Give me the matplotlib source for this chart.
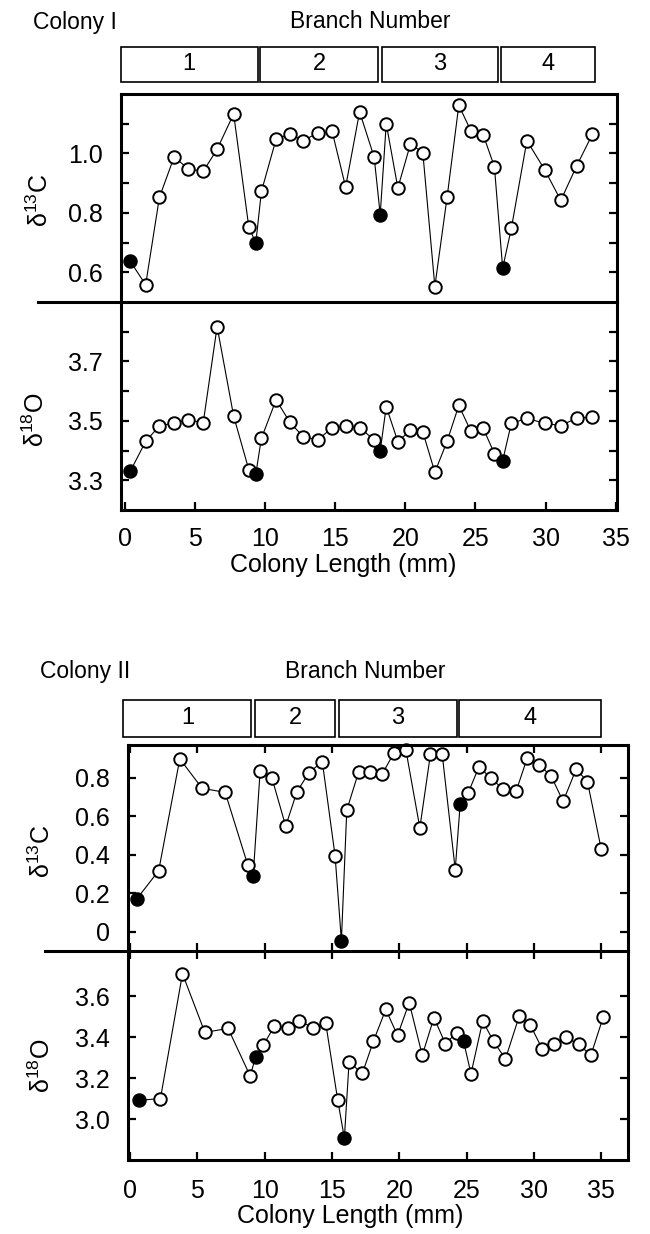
import matplotlib.pyplot as plt
from matplotlib.lines import Line2D
from matplotlib.patches import Rectangle
from matplotlib.ticker import FixedLocator

plt.rcParams['font.family'] = ['Liberation Sans', 'DejaVu Sans']
plt.rcParams['mathtext.fontset'] = 'custom'
plt.rcParams['mathtext.rm'] = 'Liberation Sans'

# ---- Colony I ----
c1_x = [0.36, 1.46, 2.44, 3.49, 4.51, 5.57, 6.56, 7.74, 8.82, 9.32, 9.72, 10.77,
        11.75, 12.70, 13.75, 14.77, 15.73, 16.73, 17.77, 18.20, 18.63, 19.46,
        20.36, 21.24, 22.10, 22.98, 23.81, 24.66, 25.55, 26.35, 26.94, 27.56,
        28.67, 29.94, 31.09, 32.21, 33.35]
c1_d13c = [0.637, 0.558, 0.852, 0.988, 0.948, 0.940, 1.014, 1.133, 0.753, 0.698,
           0.872, 1.048, 1.065, 1.043, 1.069, 1.074, 0.887, 1.140, 0.987, 0.794,
           1.100, 0.884, 1.032, 1.003, 0.552, 0.855, 1.162, 1.077, 1.063, 0.955,
           0.614, 0.748, 1.043, 0.945, 0.842, 0.957, 1.065]
c1_d18o = [3.330, 3.431, 3.483, 3.493, 3.503, 3.494, 3.817, 3.516, 3.336, 3.321,
           3.441, 3.571, 3.495, 3.447, 3.436, 3.477, 3.482, 3.477, 3.436, 3.399,
           3.548, 3.430, 3.469, 3.463, 3.327, 3.432, 3.552, 3.466, 3.475, 3.390,
           3.366, 3.492, 3.508, 3.492, 3.484, 3.509, 3.513]
c1_filled = [0, 9, 19, 30]
c1_branches = [(-0.3, 9.45), (9.65, 18.05), (18.3, 26.6), (26.85, 33.55)]

# ---- Colony II ----
c2_x_c = [0.51, 2.12, 3.69, 5.35, 7.06, 8.75, 9.14, 9.66, 10.54, 11.56, 12.40,
          13.29, 14.28, 15.23, 15.70, 16.10, 16.99, 17.83, 18.75, 19.60, 20.49,
          21.53, 22.32, 23.19, 24.16, 24.53, 25.11, 25.93, 26.79, 27.68, 28.68,
          29.50, 30.39, 31.29, 32.18, 33.15, 33.99, 35.01]
c2_d13c = [0.172, 0.317, 0.898, 0.745, 0.724, 0.345, 0.289, 0.835, 0.798, 0.549,
           0.728, 0.826, 0.884, 0.395, -0.046, 0.632, 0.832, 0.832, 0.821, 0.929,
           0.945, 0.540, 0.923, 0.923, 0.323, 0.666, 0.719, 0.858, 0.798, 0.744,
           0.729, 0.900, 0.868, 0.808, 0.677, 0.845, 0.779, 0.429]
c2_x_o = [0.63, 2.25, 3.89, 5.55, 7.28, 8.92, 9.32, 9.89, 10.71, 11.71, 12.57,
          13.57, 14.53, 15.43, 15.92, 16.27, 17.26, 18.08, 19.00, 19.87, 20.74,
          21.71, 22.58, 23.42, 24.29, 24.78, 25.33, 26.20, 27.01, 27.89, 28.91,
          29.75, 30.62, 31.49, 32.38, 33.34, 34.24, 35.16]
c2_d18o = [3.091, 3.100, 3.709, 3.423, 3.442, 3.210, 3.302, 3.360, 3.452, 3.446,
           3.480, 3.446, 3.470, 3.091, 2.907, 3.277, 3.223, 3.380, 3.535, 3.408,
           3.568, 3.311, 3.495, 3.368, 3.421, 3.379, 3.221, 3.478, 3.379, 3.293,
           3.501, 3.457, 3.343, 3.364, 3.400, 3.364, 3.311, 3.498]
c2_filled = [0, 6, 14, 25]
c2_branches = [(-0.5, 9.0), (9.25, 15.25), (15.5, 24.3), (24.45, 35.0)]

branch_labels = ['1', '2', '3', '4']
x_ticks = [0, 5, 10, 15, 20, 25, 30, 35]

W, H = 650, 1234
fig = plt.figure(figsize=(W / 100, H / 100), dpi=100)
FS_TICK = 18
FS_TITLE = 16.5
FS_LABEL = 18


def px_axes(left, top, right, bottom):
    return fig.add_axes([left / W, 1 - bottom / H, (right - left) / W, (bottom - top) / H])


def style(ax, xlim, ylim):
    ax.set_xlim(*xlim)
    ax.set_ylim(*ylim)
    for s in ax.spines.values():
        s.set_linewidth(2.2)
    ax.tick_params(which='both', direction='in', length=6, width=1.6,
                   labelsize=FS_TICK, pad=13, right=True)


def draw(ax, x, y, filled):
    ax.plot(x, y, color='black', lw=0.8, marker='o', ms=9,
            mfc='white', mec='black', mew=1.4, zorder=2, clip_on=False)
    ax.plot([x[i] for i in filled], [y[i] for i in filled], ls='none',
            marker='o', ms=8.5, mfc='black', mec='black', zorder=3, clip_on=False)


def branches(left, right, top, bottom, xlim, spans):
    bx = px_axes(left, top, right, bottom)
    bx.set_xlim(*xlim)
    bx.set_ylim(0, 1)
    bx.axis('off')
    for (a, b), lab in zip(spans, branch_labels):
        bx.add_patch(Rectangle((a, 0), b - a, 1, fill=False, lw=1.2,
                               ec='black', clip_on=False))
        bx.text((a + b) / 2, 0.5, lab, ha='center', va='center', fontsize=17)


def divider(x0, x1, y):
    fig.add_artist(Line2D([x0 / W, x1 / W], [1 - y / H, 1 - y / H],
                          color='black', lw=2.2))


# ================= Colony I =================
L1, R1 = 121, 617
xl1 = (-0.3, 35.1)
a1 = px_axes(L1, 94, R1, 302)
b1 = px_axes(L1, 302, R1, 510)
style(a1, xl1, (0.5, 1.2))
style(b1, xl1, (3.2, 3.9))
a1.spines['bottom'].set_visible(False)
b1.spines['top'].set_visible(False)
a1.tick_params(axis='x', bottom=False, labelbottom=False)
b1.tick_params(axis='x', top=False)
a1.yaxis.set_major_locator(FixedLocator([0.6, 0.8, 1.0]))
a1.yaxis.set_minor_locator(FixedLocator([0.7, 0.9, 1.1]))
a1.set_yticklabels(['0.6', '0.8', '1.0'])
b1.yaxis.set_major_locator(FixedLocator([3.3, 3.5, 3.7]))
b1.yaxis.set_minor_locator(FixedLocator([3.4, 3.6, 3.8]))
b1.set_yticklabels(['3.3', '3.5', '3.7'])
b1.set_xticks(x_ticks)
b1.tick_params(axis='x', pad=12)
draw(a1, c1_x, c1_d13c, c1_filled)
draw(b1, c1_x, c1_d18o, c1_filled)
divider(38, R1, 302)
branches(L1, R1, 47, 82, xl1, c1_branches)

fig.text(33 / W, 1 - 22 / H, 'Colony I', ha='left', va='center', fontsize=FS_TITLE)
fig.text(370 / W, 1 - 22 / H, 'Branch Number', ha='center', va='center', fontsize=FS_TITLE)
fig.text(40 / W, 1 - 200 / H, 'δ$^{13}$C', rotation=90, ha='center', va='center', fontsize=FS_LABEL)
fig.text(36 / W, 1 - 420 / H, 'δ$^{18}$O', rotation=90, ha='center', va='center', fontsize=FS_LABEL)
fig.text(343 / W, 1 - 565 / H, 'Colony Length (mm)', ha='center', va='center', fontsize=FS_LABEL)

# ================= Colony II =================
L2, R2 = 128, 628
xl2 = (-0.16, 37.0)
a2 = px_axes(L2, 745, R2, 951)
b2 = px_axes(L2, 951, R2, 1160)
style(a2, xl2, (-0.1, 0.97))
style(b2, xl2, (2.8, 3.82))
a2.spines['bottom'].set_visible(False)
b2.spines['top'].set_visible(False)
for ax in (a2, b2):
    ax.set_xticks(x_ticks)
    ax.tick_params(axis='x', top=True)
a2.tick_params(axis='x', labelbottom=False)
b2.tick_params(axis='x', pad=14)
a2.set_yticks([0, 0.2, 0.4, 0.6, 0.8])
a2.set_yticklabels(['0', '0.2', '0.4', '0.6', '0.8'])
b2.set_yticks([3.0, 3.2, 3.4, 3.6])
b2.set_yticklabels(['3.0', '3.2', '3.4', '3.6'])
draw(a2, c2_x_c, c2_d13c, c2_filled)
draw(b2, c2_x_o, c2_d18o, c2_filled)
divider(45, R2, 951)
branches(L2, R2, 700, 737, xl2, c2_branches)

fig.text(40 / W, 1 - 672 / H, 'Colony II', ha='left', va='center', fontsize=FS_TITLE)
fig.text(365 / W, 1 - 672 / H, 'Branch Number', ha='center', va='center', fontsize=FS_TITLE)
fig.text(42 / W, 1 - 851 / H, 'δ$^{13}$C', rotation=90, ha='center', va='center', fontsize=FS_LABEL)
fig.text(42 / W, 1 - 1066 / H, 'δ$^{18}$O', rotation=90, ha='center', va='center', fontsize=FS_LABEL)
fig.text(350 / W, 1 - 1216 / H, 'Colony Length (mm)', ha='center', va='center', fontsize=FS_LABEL)

fig.savefig('out.png', dpi=100)
